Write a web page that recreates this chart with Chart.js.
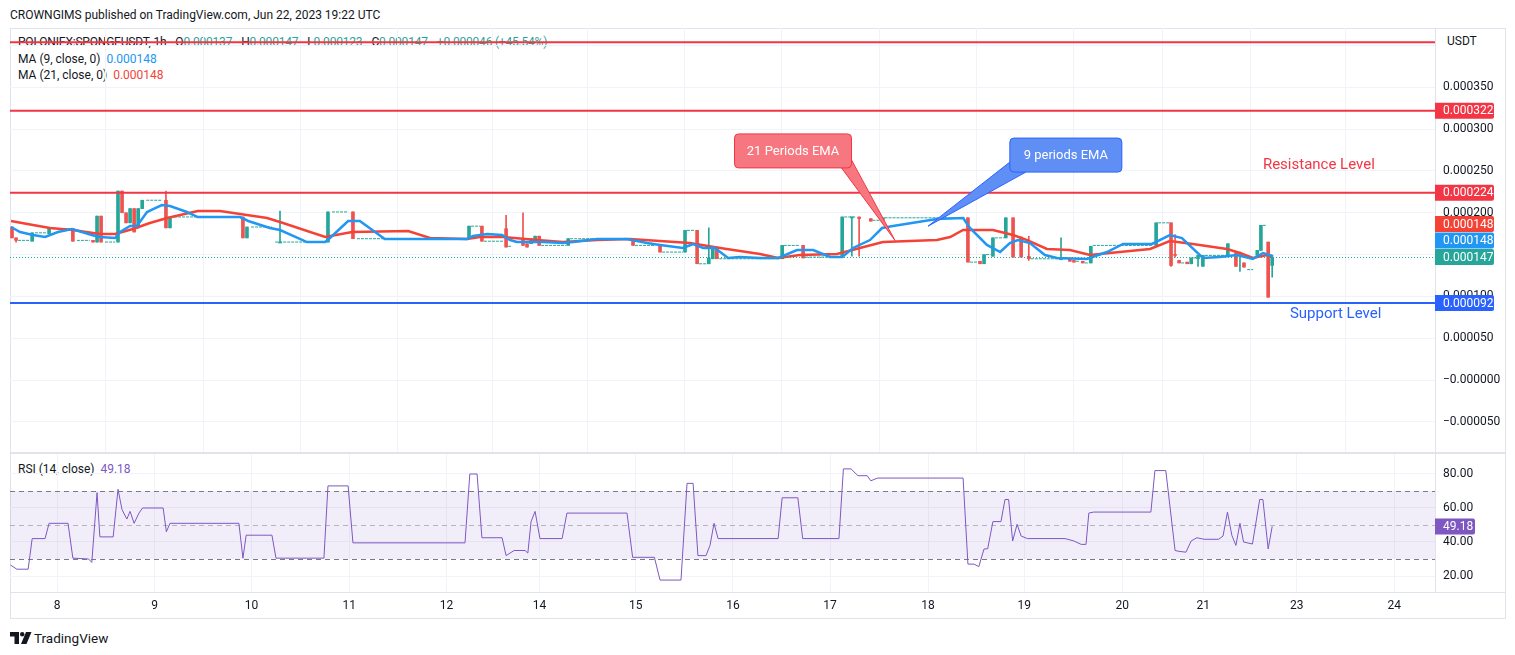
<!DOCTYPE html>
<html>
<head>
<meta charset="utf-8">
<title>POLONIEX:SPONGEUSDT 1h</title>
<script src="https://cdn.jsdelivr.net/npm/chart.js@4.4.1/dist/chart.umd.min.js"></script>
<style>
  html, body { margin: 0; padding: 0; background: #fff; }
  body { width: 1515px; height: 655px; position: relative; overflow: hidden;
         font-family: Roboto, "Open Sans", sans-serif; color: #131722; }
  .abs { position: absolute; white-space: nowrap; line-height: 16px; }
  .txt { font-size: 12px; z-index: 0; }
  .up { color: #26a69a; }
  .gap { margin-left: 9px; }
  #frame { position: absolute; left: 10px; top: 28px; width: 1496px; height: 591px;
           border: 1px solid #e0e3eb; box-sizing: border-box; }
  .sep { position: absolute; left: 10px; width: 1496px; background: #e0e3eb; }
  canvas { position: absolute; z-index: 1; }
</style>
</head>
<body>
<div class="abs txt" style="left:10px;top:7px;">CROWNGIMS published on TradingView.com, Jun 22, 2023 19:22 UTC</div>
<div id="frame"></div>
<div class="sep" style="top:452px;height:2px;"></div>
<div class="sep" style="top:592px;height:1px;"></div>

<div class="abs txt" style="left:18px;top:34px;letter-spacing:-0.2px;">POLONIEX:SPONGEUSDT, 1h<span class="gap">O</span><span class="up">0.000137</span><span class="gap">H</span><span class="up">0.000147</span><span class="gap">L</span><span class="up">0.000123</span><span class="gap">C</span><span class="up">0.000147</span><span class="gap up">+0.000046 (+45.54%)</span></div>
<div class="abs txt" style="left:18px;top:51px;">MA (9, close, 0)&nbsp;&nbsp;<span style="color:#2196f3">0.000148</span></div>
<div class="abs txt" style="left:18px;top:67px;">MA (21, close, 0)&nbsp;&nbsp;<span style="color:#f44336">0.000148</span></div>
<div class="abs txt" style="left:1447px;top:33px;">USDT</div>
<div class="abs txt" style="left:18px;top:461px;">RSI (14, close)&nbsp;&nbsp;<span style="color:#7e57c2">49.18</span></div>

<div class="abs" style="left:10px;top:629px;height:16px;">
  <svg width="22" height="14" viewBox="0 0 22 14" style="vertical-align:middle">
    <path d="M0 1h9v12h-4.5v-7.5h-4.5z" fill="#131722"/>
    <circle cx="12.2" cy="3.2" r="2.2" fill="#131722"/>
    <path d="M16 1h5.5l-5 12h-5.5z" fill="#131722"/>
  </svg><span style="font-size:13.5px;vertical-align:middle;margin-left:2px;">TradingView</span>
</div>

<canvas id="main" width="1495" height="424" style="left:10px;top:28px;width:1495px;height:424px;"></canvas>
<canvas id="rsi" width="1495" height="164" style="left:10px;top:454px;width:1495px;height:164px;"></canvas>

<script>
// x positions are bar indices (1h bars, gaps in trading squeeze the days)
// prices are in millionths of USDT (1e-6)

// time axis
const dayTicks = [11.7, 35.9, 59.9, 84.2, 108.3, 131.4, 155.3, 179.4, 203.5, 227.8, 251.7, 276.0, 296.1, 319.3, 343.5];
const dayLabels = ['8', '9', '10', '11', '12', '14', '15', '16', '17', '18', '19', '20', '21', '23', '24'];

// price axis
const priceTicks = [-50, 0, 50, 100, 150, 200, 250, 300, 350, 400];
const priceTickLabels = ['\u22120.000050', '\u22120.000000', '0.000050', '0.000100', '0.000150',
  '0.000200', '0.000250', '0.000300', '0.000350', ''];

// candles (only bars that moved)
const candleX = [0.5, 1.5, 5.5, 9.7, 15.6, 20.6, 21.6, 22.6, 26.8, 27.8, 28.8, 29.8, 30.8, 31.8, 32.8, 38.7, 39.7,
  57.8, 58.8, 67, 78.9, 85.1, 113.9, 117.1, 123.1, 127.3, 128.3, 129.3, 130.3, 131.3, 138.5, 154.6, 161.3,
  167.5, 170.5, 173.4, 174.4, 175.4, 191.6, 196.8, 206.5, 208.9, 210.7, 213.6, 216.6, 237.7, 240.7, 241.7,
  243.9, 247.1, 248.9, 250.9, 252.8, 260.8, 263, 264, 266.2, 268.2, 284.4, 288.1, 289.1, 290.1, 292.1,
  293.1, 294.8, 296, 302.2, 304.2, 305.2, 306.2, 309.5, 310.4, 312.2, 313.2];
const candleOpen = [183, 170, 166, 175, 181, 167, 165, 196, 165, 226, 200, 188, 205, 182, 205, 215, 182,
  195, 170, 165, 165, 201, 169, 184, 181, 169, 163, 163, 165, 172, 161, 169, 161,
  153, 179, 139, 145, 159, 145, 161, 147, 195, 195, 193, 191, 194, 142, 139,
  148, 170, 194, 171, 148, 145, 145, 143, 142, 140, 161, 188, 150, 143, 141,
  139, 145, 136, 149, 152, 151, 140, 149, 155, 165, 137];
const candleHigh = [183, 170, 176, 181, 181, 167, 196, 196, 226, 226, 200, 205, 205, 205, 215, 226, 195,
  195, 183, 202, 201, 201, 184, 184, 197, 200, 163, 169, 172, 172, 169, 169, 161,
  179, 179, 182, 159, 159, 161, 161, 195, 195, 195, 193, 194, 194, 142, 150,
  170, 194, 194, 171, 172, 170, 145, 143, 142, 160, 188, 188, 174, 143, 141,
  146, 149, 149, 163, 152, 153, 140, 155, 185, 165, 147];
const candleLow = [170, 165, 166, 175, 166, 165, 165, 165, 165, 200, 188, 188, 177, 182, 205, 182, 182,
  170, 170, 165, 165, 169, 169, 166, 159, 161, 159, 163, 165, 161, 161, 161, 153,
  153, 139, 139, 145, 145, 145, 146, 147, 148, 148, 190, 191, 141, 139, 139,
  148, 170, 147, 147, 143, 145, 142, 141, 140, 140, 161, 136, 147, 140, 139,
  139, 136, 136, 149, 136, 130, 135, 149, 155, 99, 123];
const candleClose = [170, 167, 176, 181, 166, 165, 196, 165, 226, 200, 188, 205, 177, 205, 215, 182, 195,
  170, 183, 165, 201, 169, 184, 166, 159, 161, 159, 169, 172, 161, 169, 161, 153,
  179, 139, 146, 159, 145, 161, 146, 195, 195, 193, 190, 194, 141, 139, 150,
  170, 194, 147, 147, 145, 145, 142, 141, 140, 160, 188, 137, 149, 140, 139,
  146, 149, 149, 163, 136, 152, 135, 155, 185, 99, 147];

// runs of bars with no trades (open = high = low = close)
const flatFrom = [2, 6.2, 10.5, 16.6, 23.6, 33.8, 40.7, 59.8, 65.8, 79.9, 86.1, 114.4, 117.6, 123.6, 131.8,
  139, 155.1, 161.8, 168, 171, 176, 192, 197.3, 207, 214, 217, 238.2, 242.2, 244.4, 253.3, 261.3,
  264.5, 266.7, 268.7, 284.9, 290.6, 293.6, 296.5, 307, 310.9];
const flatTo = [5, 9.2, 14.8, 19.8, 26.1, 37.8, 57.1, 65, 78.6, 83.9, 113.1, 116.6, 122.6, 124.6, 138,
  153.8, 160.1, 167, 170, 173, 191, 196, 205.5, 210, 216, 237, 240, 243.3, 246.6, 260.6, 262.6,
  265.5, 267.5, 283.6, 287.6, 291.6, 294.6, 301.8, 308.5, 311.6];
const flatLevel = [167, 176, 181, 167, 165, 215, 195, 183, 165, 201, 169, 184, 166, 160, 161,
  169, 161, 153, 179, 139, 145, 161, 147, 195, 191, 194, 141, 150, 170, 145, 145,
  142, 140, 161, 188, 140, 146, 149, 132, 185];

// moving averages
const ma9X = [0.25, 2.5, 5.7, 8.7, 11.9, 15.4, 20.3, 22.3, 26.1, 27.3, 29.8, 31.5, 34, 35.5, 37.7, 39.7, 43.9,
  46.6, 57.1, 59.1, 64.5, 67, 73.7, 78.2, 79.4, 83.9, 86.8, 93, 113.4, 114.9, 118.4, 122.1, 124.1, 125.8,
  132.3, 137.2, 139.7, 145.7, 153.1, 158.1, 161.3, 167, 169.5, 172, 174.9, 178.2, 181.1, 186.1, 190.6,
  195.3, 199.3, 203.5, 206.5, 209.2, 213.4, 216.4, 219.1, 230, 236.5, 238.2, 242.4, 245.7, 248.1, 250.1,
  253.1, 256.8, 259.8, 267.2, 272.2, 276.2, 283.4, 287.8, 290.8, 296, 300.2, 304.5, 308.4, 310.9, 313.4];
const ma9Y = [183, 177, 173.4, 171, 177, 180.6, 173.4, 171, 169.8, 177, 184.2, 184.2, 200.9, 204.5, 209.3, 208.1, 200.9,
  194.9, 194.9, 190.2, 181.8, 179.4, 165, 165, 169.8, 190.2, 190.2, 168.6, 168.6, 172.2, 174.6, 173.4, 167.4, 165,
  165, 163.8, 165, 168.6, 168.6, 163.8, 161.5, 157.9, 162.7, 157.9, 157.9, 145.9, 147.1, 145.9, 145.9,
  155.5, 155.5, 147.1, 147.1, 157.9, 167.4, 181.8, 184.2, 192.6, 193.8, 181.8, 161.5, 153.1, 163.8, 167.4,
  163.8, 149.5, 145.9, 144.7, 153.1, 162.7, 162.7, 173.4, 169.8, 145.9, 147.1, 149.5, 144.7, 151.9, 148];
const ma21X = [0.25, 5.7, 9.9, 15.6, 22.3, 26.1, 30.5, 34.7, 39, 42.2, 46.6, 52.1, 57.1, 63.8, 67, 78.2, 84.9,
  98.8, 104.2, 113.4, 116.6, 122.3, 130.8, 137.2, 145.7, 153.8, 161.3, 168.7, 176.2, 186.1, 190.6, 196,
  205.2, 210.9, 216.6, 230, 233.3, 236.5, 243.9, 248.9, 252.4, 257.3, 263, 268, 275.4, 282.9, 287.8,
  293.5, 302, 305.2, 308.4, 311.9, 313.4];
const ma21Y = [190.2, 185.4, 181.8, 179.4, 174.6, 174.6, 180.6, 187.8, 193.8, 197.3, 202.1, 202.1, 198.5, 193.8, 189, 171, 177,
  178.2, 169.8, 168.6, 171, 171, 167.4, 165, 167.4, 168.6, 166.2, 163.8, 157.9, 150.7, 145.9, 149.5,
  150.7, 157.9, 165, 167.4, 171, 179.4, 179.4, 173.4, 167.4, 156.7, 155.5, 149.5, 153.1, 156.7, 166.2,
  162.7, 156.7, 151.9, 145.9, 149.5, 148];

// drawn levels
const resistanceLevels = [404, 322, 224];
const supportLevels = [92];
const lastPrice = 147;

// RSI (14, close)
const rsiX = [0.1, 1.7, 4.5, 5.5, 8.7, 9.7, 14.4, 15.6, 19.5, 20.3, 21.6, 22.3, 25.6, 26.8, 27.8, 29, 29.8, 30.8,
  32, 32.9, 38, 38.8, 39.7, 56.8, 57.8, 58.6, 65, 66, 77.9, 78.9, 83.9, 85.1, 112.9, 114.1, 115.9, 117.1,
  122.1, 123.1, 125.1, 127.8, 128.5, 129.3, 130.3, 131.5, 137, 138.2, 153.1, 154.5, 159.9, 161.3, 166.5,
  168, 169.5, 170.7, 172.7, 173.7, 174.7, 175.7, 190.6, 191.6, 195.5, 196.7, 205.7, 206.8, 208.7, 210.4,
  212.7, 213.6, 215.3, 236.5, 237.7, 239.2, 240.4, 241.7, 242.6, 243.9, 245.9, 246.9, 247.8, 248.8, 249.9,
  250.9, 252.5, 261.8, 264, 265.8, 267, 267.7, 268.9, 283.1, 284.1, 286.8, 289.1, 290.1, 291.8, 293.1,
  294.5, 296.3, 299.9, 301, 302.1, 303.2, 304.2, 305.2, 306.1, 308.3, 310.1, 310.9, 312.2, 313.2];
const rsiY = [26.5, 24, 24, 42, 42, 51, 51, 30.5, 30, 28, 69, 43, 43, 71, 59, 53.5, 58, 51,
  57, 60, 60, 46, 51, 51, 30.5, 44, 44, 30.5, 30.5, 73, 73, 39.5, 39.5, 80, 80, 42.5,
  42.5, 32, 35, 35, 33.5, 52, 58, 42, 42, 57, 57, 31, 31, 17.6, 17.6,
  74.5, 74.5, 32, 32, 38, 51, 42, 42, 66, 66, 42, 42, 83, 83, 79,
  79, 76, 77.6, 77.6, 27, 27, 25.5, 35.9, 36, 52, 52, 65, 65, 40.6, 50.4,
  43.5, 42, 42, 40.6, 38.6, 38.6, 57, 57.6, 57.6, 82, 82, 35, 34.5, 34, 40.6,
  42.5, 41.6, 41.6, 43.5, 57.6, 43.9, 38, 51, 40, 38.8, 65, 65, 35.9, 49.18];
const rsiTicks = [20, 40, 60, 80];

const UP = '#26a69a', DOWN = '#ef5350';
const FONT = "Roboto, 'Open Sans', sans-serif";
Chart.defaults.font.family = FONT;
Chart.defaults.font.size = 12;
Chart.defaults.color = '#131722';

const candleColors = candleX.map((_, i) => candleClose[i] >= candleOpen[i] ? UP : DOWN);
const flatPoints = [];
flatFrom.forEach((a, i) => {
  flatPoints.push({ x: a, y: flatLevel[i] }, { x: flatTo[i], y: flatLevel[i] }, { x: flatTo[i], y: null });
});

const axisTags = [
  { value: 147, text: '0.000147', color: '#26a69a' },
  { value: 148, text: '0.000148', color: '#2196f3' },
  { value: 148, text: '0.000148', color: '#f44336' },
  { value: 322, text: '0.000322', color: '#f23645' },
  { value: 224, text: '0.000224', color: '#f23645' },
  { value: 92, text: '0.000092', color: '#2962ff' }
];

const notes = [
  { text: '21 Periods EMA', x: 194.3, y: 274, w: 117, h: 34, tipX: 219.6, tipY: 167,
    fill: '#f6777f', line: '#f23645', side: 'right' },
  { text: '9 periods EMA', x: 262, y: 269, w: 112, h: 34, tipX: 227.8, tipY: 184,
    fill: '#5f8ff5', line: '#2962ff', side: 'left' }
];
const levelTexts = [
  { text: 'Resistance Level', x: 310.9, y: 257, color: '#f23645' },
  { text: 'Support Level', x: 317.6, y: 79, color: '#2962ff' }
];

function tag(ctx, x, y, w, h, color, text) {
  ctx.fillStyle = color;
  ctx.beginPath();
  if (ctx.roundRect) ctx.roundRect(x, y - h / 2, w, h, [0, 2, 2, 0]);
  else ctx.rect(x, y - h / 2, w, h);
  ctx.fill();
  ctx.fillStyle = '#fff';
  ctx.textAlign = 'left';
  ctx.textBaseline = 'middle';
  ctx.fillText(text, x + 8, y + 0.5);
}

const mainOverlays = {
  id: 'mainOverlays',
  afterDatasetsDraw(chart) {
    const { ctx, chartArea: a, scales: { x, y } } = chart;
    ctx.save();
    ctx.beginPath();
    ctx.rect(a.left, a.top, a.width, a.height);
    ctx.clip();

    // last price
    ctx.strokeStyle = UP;
    ctx.lineWidth = 1;
    ctx.setLineDash([1, 2]);
    const lp = Math.round(y.getPixelForValue(lastPrice)) + 0.5;
    ctx.beginPath(); ctx.moveTo(a.left, lp); ctx.lineTo(a.right, lp); ctx.stroke();
    ctx.setLineDash([]);

    // horizontal levels
    ctx.lineWidth = 2;
    const hline = (v, c) => {
      const py = y.getPixelForValue(v);
      ctx.strokeStyle = c;
      ctx.beginPath(); ctx.moveTo(a.left, py); ctx.lineTo(a.right, py); ctx.stroke();
    };
    resistanceLevels.forEach(v => hline(v, '#f23645'));
    supportLevels.forEach(v => hline(v, '#2962ff'));

    // callouts
    notes.forEach(n => {
      const cx = x.getPixelForValue(n.x), cy = y.getPixelForValue(n.y);
      const bx = cx - n.w / 2, by = cy - n.h / 2;
      const tx = x.getPixelForValue(n.tipX), ty = y.getPixelForValue(n.tipY);
      const base = n.side === 'right'
        ? [[bx + n.w - 10, by + n.h], [bx + n.w, by + n.h - 8]]
        : [[bx, by + n.h - 10], [bx + 16, by + n.h]];
      ctx.fillStyle = n.fill;
      ctx.strokeStyle = n.line;
      ctx.lineWidth = 1;
      ctx.beginPath();
      ctx.moveTo(base[0][0], base[0][1]);
      ctx.lineTo(tx, ty);
      ctx.lineTo(base[1][0], base[1][1]);
      ctx.closePath();
      ctx.fill(); ctx.stroke();
      ctx.beginPath();
      if (ctx.roundRect) ctx.roundRect(bx, by, n.w, n.h, 4); else ctx.rect(bx, by, n.w, n.h);
      ctx.fill(); ctx.stroke();
      ctx.fillStyle = '#fff';
      ctx.font = '13px ' + FONT;
      ctx.textAlign = 'center';
      ctx.textBaseline = 'middle';
      ctx.fillText(n.text, cx, cy + 0.5);
    });

    ctx.font = '15px ' + FONT;
    ctx.textAlign = 'left';
    ctx.textBaseline = 'middle';
    levelTexts.forEach(t => {
      ctx.fillStyle = t.color;
      ctx.fillText(t.text, x.getPixelForValue(t.x), y.getPixelForValue(t.y));
    });
    ctx.restore();
  },
  afterDraw(chart) {
    const { ctx, chartArea: a, scales: { y } } = chart;
    ctx.save();
    ctx.font = '12px ' + FONT;
    const placed = [];
    axisTags.forEach(t => {
      let py = y.getPixelForValue(t.value);
      let moved = true;
      while (moved) {
        moved = false;
        placed.forEach(p => { if (Math.abs(p - py) < 16.5) { py = p - 16.5; moved = true; } });
      }
      placed.push(py);
      tag(ctx, a.right, py, 59, 16, t.color, t.text);
    });
    ctx.restore();
  }
};

const rsiOverlays = {
  id: 'rsiOverlays',
  beforeDatasetsDraw(chart) {
    const { ctx, chartArea: a, scales: { y } } = chart;
    const top = y.getPixelForValue(70), mid = y.getPixelForValue(50), bot = y.getPixelForValue(30);
    ctx.save();
    ctx.fillStyle = 'rgba(126, 87, 194, 0.1)';
    ctx.fillRect(a.left, top, a.width, bot - top);
    ctx.lineWidth = 1;
    ctx.setLineDash([5, 4]);
    [[top, '#787b86'], [mid, 'rgba(120, 123, 134, 0.5)'], [bot, '#787b86']].forEach(([py, c]) => {
      ctx.strokeStyle = c;
      ctx.beginPath(); ctx.moveTo(a.left, Math.round(py) + 0.5); ctx.lineTo(a.right, Math.round(py) + 0.5); ctx.stroke();
    });
    ctx.restore();
  },
  afterDraw(chart) {
    const { ctx, chartArea: a, scales: { y } } = chart;
    ctx.save();
    ctx.font = '12px ' + FONT;
    tag(ctx, a.right, y.getPixelForValue(rsiY[rsiY.length - 1]), 40, 16, '#7e57c2', rsiY[rsiY.length - 1].toFixed(2));
    ctx.restore();
  }
};

function fitRight(s) { s.width = 70; s.paddingTop = 0; s.paddingBottom = 0; }
const gridColor = '#f0f3fa';

new Chart(document.getElementById('main'), {
  type: 'bar',
  data: {
    datasets: [
      { type: 'line', label: 'MA 9', data: ma9X.map((x, i) => ({ x, y: ma9Y[i] })),
        borderColor: '#2196f3', borderWidth: 2.5, pointRadius: 0, order: 0 },
      { type: 'line', label: 'MA 21', data: ma21X.map((x, i) => ({ x, y: ma21Y[i] })),
        borderColor: '#f44336', borderWidth: 2.5, pointRadius: 0, order: 1 },
      { label: 'Body', data: candleX.map((x, i) => ({ x, y: [candleOpen[i], candleClose[i]] })),
        backgroundColor: candleColors, barThickness: 3, minBarLength: 1, grouped: false, order: 2 },
      { label: 'Wick', data: candleX.map((x, i) => ({ x, y: [candleLow[i], candleHigh[i]] })),
        backgroundColor: candleColors, barThickness: 1, minBarLength: 1, grouped: false, order: 3 },
      { type: 'line', label: 'No trades', data: flatPoints, borderColor: UP, borderWidth: 1,
        borderDash: [3, 1], pointRadius: 0, spanGaps: false, order: 4 }
    ]
  },
  options: {
    responsive: false,
    animation: false,
    events: [],
    layout: { padding: 0 },
    plugins: { legend: { display: false }, tooltip: { enabled: false } },
    scales: {
      x: {
        type: 'linear', min: 0, max: 353.6, offset: false,
        grid: { color: gridColor, drawTicks: false },
        border: { display: false },
        ticks: { display: false },
        afterBuildTicks: s => { s.ticks = dayTicks.map(v => ({ value: v })); },
        afterFit: s => { s.height = 0; s.paddingLeft = 0; s.paddingRight = 0; }
      },
      y: {
        position: 'right', min: -86.1, max: 421,
        grid: { color: gridColor, drawTicks: false },
        border: { display: true, color: '#e0e3eb' },
        ticks: { padding: 8, color: '#131722', callback: (v, i) => priceTickLabels[i] },
        afterBuildTicks: s => { s.ticks = priceTicks.map(v => ({ value: v })); },
        afterFit: fitRight
      }
    }
  },
  plugins: [mainOverlays]
});

new Chart(document.getElementById('rsi'), {
  type: 'line',
  data: {
    datasets: [{ label: 'RSI', data: rsiX.map((x, i) => ({ x, y: rsiY[i] })),
      borderColor: '#7e57c2', borderWidth: 1, pointRadius: 0 }]
  },
  options: {
    responsive: false,
    animation: false,
    events: [],
    layout: { padding: 0 },
    plugins: { legend: { display: false }, tooltip: { enabled: false } },
    scales: {
      x: {
        type: 'linear', min: 0, max: 353.6, offset: false,
        grid: { color: gridColor, drawTicks: false },
        border: { display: false },
        ticks: { padding: 7, color: '#131722', autoSkip: false, maxRotation: 0,
                 callback: (v, i) => dayLabels[i] },
        afterBuildTicks: s => { s.ticks = dayTicks.map(v => ({ value: v })); },
        afterFit: s => { s.height = 26; s.paddingLeft = 0; s.paddingRight = 0; }
      },
      y: {
        position: 'right', min: 10.59, max: 91.76,
        grid: { color: gridColor, drawTicks: false },
        border: { display: true, color: '#e0e3eb' },
        ticks: { padding: 8, color: '#131722', callback: (v, i) => rsiTicks[i].toFixed(2) },
        afterBuildTicks: s => { s.ticks = rsiTicks.map(v => ({ value: v })); },
        afterFit: fitRight
      }
    }
  },
  plugins: [rsiOverlays]
});
</script>
</body>
</html>
